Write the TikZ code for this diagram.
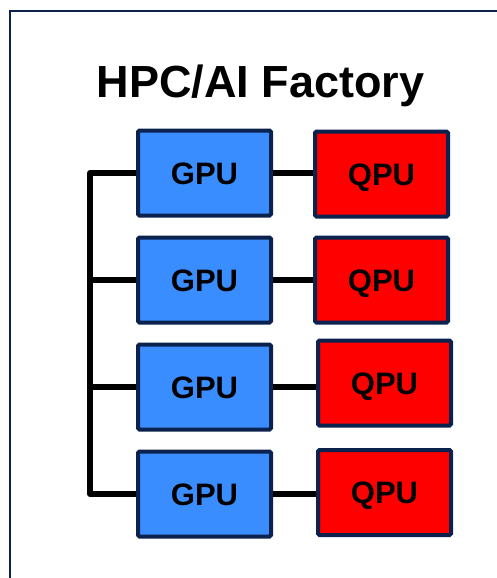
\documentclass[tikz,border=0pt]{standalone}
\usepackage{fontspec}
\setmainfont{Liberation Sans}
\usetikzlibrary{positioning}

\definecolor{navy}{RGB}{12,34,78}
\definecolor{gpublue}{RGB}{58,141,255}
\definecolor{qpured}{RGB}{255,0,0}

\tikzset{
  unit/.style={draw=navy, line width=4pt, rounded corners=1.5pt,
    minimum width=133pt, minimum height=85pt, inner sep=0pt,
    text height=22pt, text depth=0pt,
    font=\fontsize{31}{31}\selectfont\bfseries},
  gpu/.style={unit, fill=gpublue},
  qpu/.style={unit, fill=qpured},
  link/.style={line width=6pt, line join=round},
}

\begin{document}
\begin{tikzpicture}[x=1pt, y=-1pt]
  \useasboundingbox (0,0) rectangle (497,578);
  \clip (0,0) rectangle (497,578);
  \draw[navy, line width=2pt] (10,11) rectangle (520,600);

  \node[anchor=base, font=\fontsize{45}{45}\selectfont\bfseries] (title) at (260.5,97) {HPC/AI Factory};

  \node[gpu] (g1) at (204.5,173) {GPU};
  \node[gpu, below=18pt of g1] (g2) {GPU};
  \node[gpu, below=18pt of g2] (g3) {GPU};
  \node[gpu, below=18pt of g3] (g4) {GPU};

  \node[qpu, right=40pt of g1, yshift=-1pt] (q1) {QPU};
  \node[qpu, right=40pt of g2] (q2) {QPU};
  \node[qpu, right=43pt of g3, yshift=4pt] (q3) {QPU};
  \node[qpu, right=43pt of g4, yshift=1.5pt] (q4) {QPU};

  \coordinate (bus) at (90,0);

  \draw[link] (g1.west) -- (g1.west -| bus) -- (g4.west -| bus) -- (g4.west);
  \draw[link] (g2.west) -- (g2.west -| bus);
  \draw[link] (g3.west) -- (g3.west -| bus);

  \draw[link] (g1.east) -- (g1.east -| q1.west);
  \draw[link] (g2.east) -- (g2.east -| q2.west);
  \draw[link] (g3.east) -- (g3.east -| q3.west);
  \draw[link] (g4.east) -- (g4.east -| q4.west);
\end{tikzpicture}
\end{document}
